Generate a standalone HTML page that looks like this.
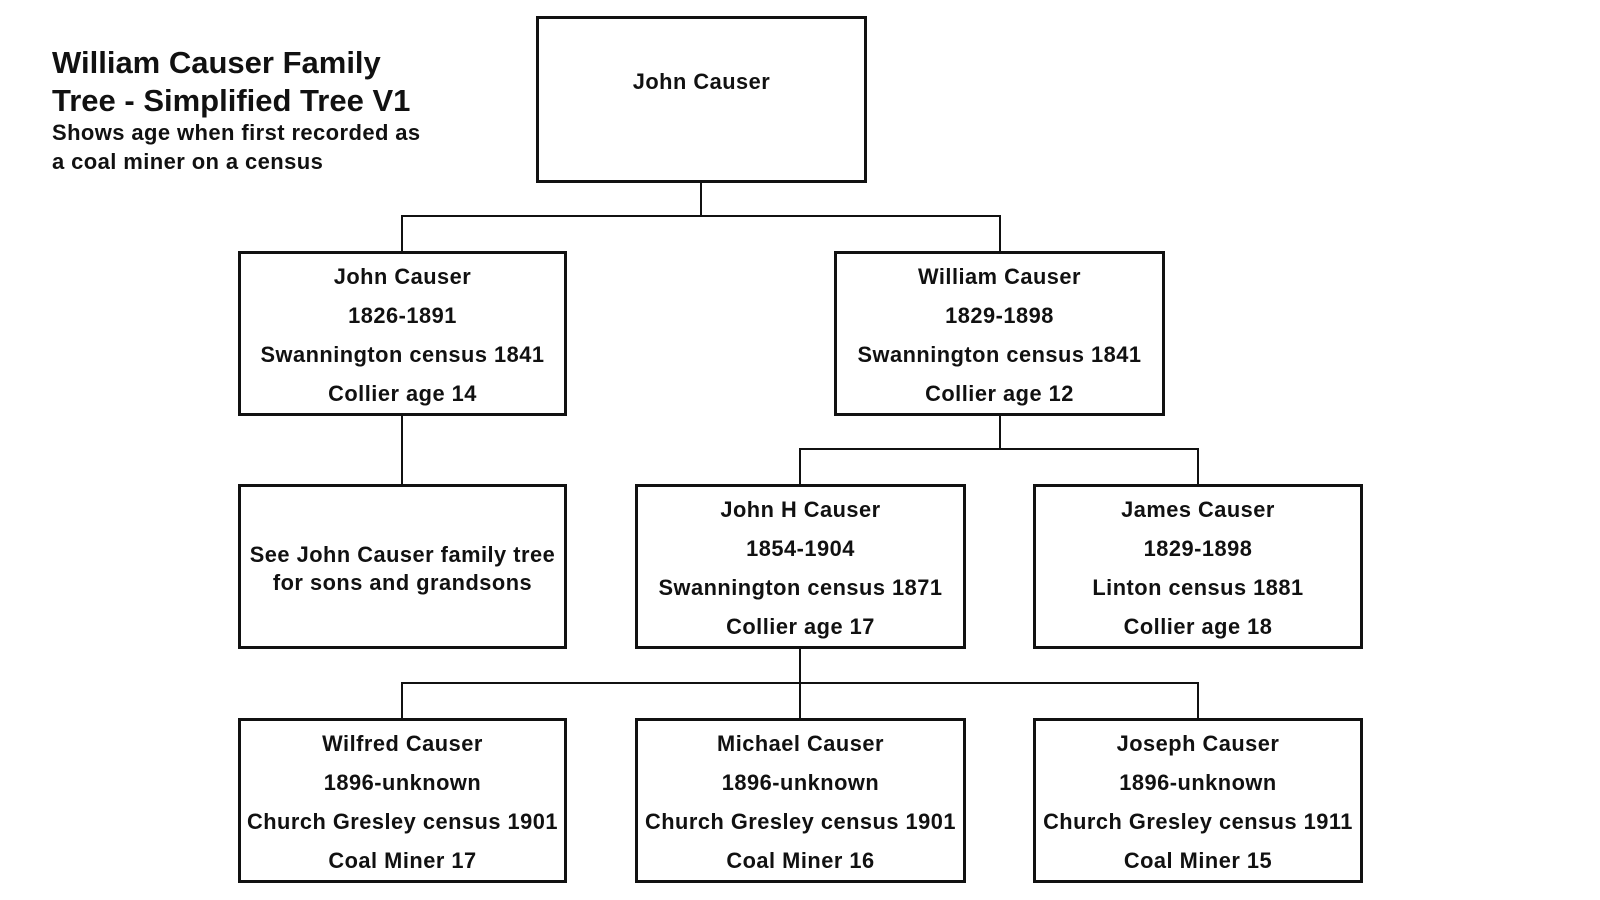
<!DOCTYPE html>
<html><head><meta charset="utf-8"><style>
body{margin:0;width:1600px;height:900px;background:#fff;position:relative;overflow:hidden;font-family:"Liberation Sans",Arial,sans-serif;font-weight:bold;color:#111}
.b{position:absolute;box-sizing:border-box;border:3px solid #111;background:#fff;text-align:center;font-size:21.8px;letter-spacing:0.5px}
.b div{position:absolute;left:0;right:0;transform:translateY(-50%);white-space:nowrap}
.l{position:absolute;background:#111}
.t{position:absolute;left:52px;white-space:nowrap}
</style></head><body>
<div class="t" style="top:44px;font-size:31px;line-height:38px">William Causer Family<br>Tree - Simplified Tree V1</div>
<div class="t" style="top:118px;font-size:22px;line-height:29px;letter-spacing:0.4px">Shows age when first recorded as<br>a coal miner on a census</div>

<div class="l" style="left:700px;top:182px;width:2px;height:35px"></div>
<div class="l" style="left:401px;top:215px;width:600px;height:2px"></div>
<div class="l" style="left:401px;top:215px;width:2px;height:37px"></div>
<div class="l" style="left:999px;top:215px;width:2px;height:37px"></div>
<div class="l" style="left:401px;top:415px;width:2px;height:70px"></div>
<div class="l" style="left:999px;top:415px;width:2px;height:35px"></div>
<div class="l" style="left:799px;top:448px;width:400px;height:2px"></div>
<div class="l" style="left:799px;top:448px;width:2px;height:37px"></div>
<div class="l" style="left:1197px;top:448px;width:2px;height:37px"></div>
<div class="l" style="left:799px;top:648px;width:2px;height:71px"></div>
<div class="l" style="left:401px;top:682px;width:798px;height:2px"></div>
<div class="l" style="left:401px;top:682px;width:2px;height:37px"></div>
<div class="l" style="left:1197px;top:682px;width:2px;height:37px"></div>

<div class="b" style="left:536px;top:16px;width:331px;height:167px"><div style="top:63px">John Causer</div></div>

<div class="b" style="left:238px;top:251px;width:329px;height:165px"><div style="top:23px">John Causer</div><div style="top:62px">1826-1891</div><div style="top:101px">Swannington census 1841</div><div style="top:140px">Collier age 14</div></div>
<div class="b" style="left:834px;top:251px;width:331px;height:165px"><div style="top:23px">William Causer</div><div style="top:62px">1829-1898</div><div style="top:101px">Swannington census 1841</div><div style="top:140px">Collier age 12</div></div>

<div class="b" style="left:238px;top:484px;width:329px;height:165px"><div style="top:82px;line-height:28px">See John Causer family tree<br>for sons and grandsons</div></div>
<div class="b" style="left:635px;top:484px;width:331px;height:165px"><div style="top:23px">John H Causer</div><div style="top:62px">1854-1904</div><div style="top:101px">Swannington census 1871</div><div style="top:140px">Collier age 17</div></div>
<div class="b" style="left:1033px;top:484px;width:330px;height:165px"><div style="top:23px">James Causer</div><div style="top:62px">1829-1898</div><div style="top:101px">Linton census 1881</div><div style="top:140px">Collier age 18</div></div>

<div class="b" style="left:238px;top:718px;width:329px;height:165px"><div style="top:23px">Wilfred Causer</div><div style="top:62px">1896-unknown</div><div style="top:101px">Church Gresley census 1901</div><div style="top:140px">Coal Miner 17</div></div>
<div class="b" style="left:635px;top:718px;width:331px;height:165px"><div style="top:23px">Michael Causer</div><div style="top:62px">1896-unknown</div><div style="top:101px">Church Gresley census 1901</div><div style="top:140px">Coal Miner 16</div></div>
<div class="b" style="left:1033px;top:718px;width:330px;height:165px"><div style="top:23px">Joseph Causer</div><div style="top:62px">1896-unknown</div><div style="top:101px">Church Gresley census 1911</div><div style="top:140px">Coal Miner 15</div></div>
</body></html>
